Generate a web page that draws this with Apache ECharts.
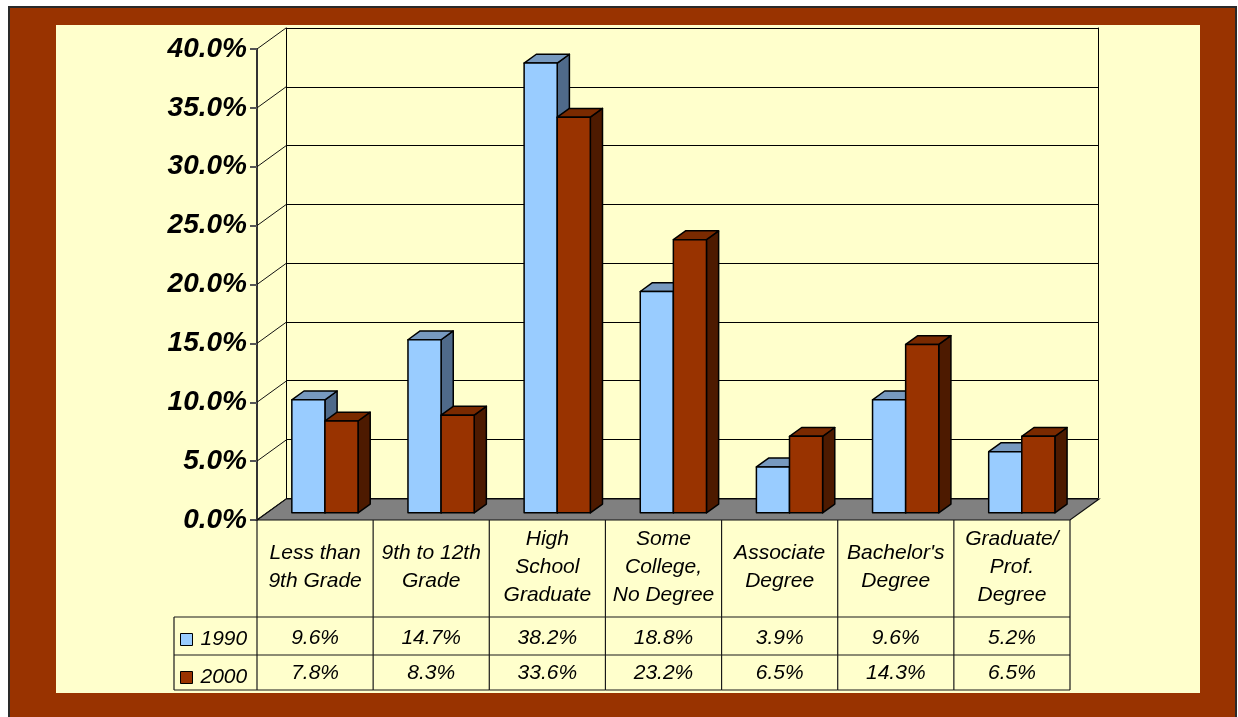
<!DOCTYPE html>
<html><head><meta charset="utf-8">
<script src="https://cdn.jsdelivr.net/npm/echarts@6/dist/echarts.min.js"></script>
<style>
html,body{margin:0;padding:0;background:#fff;width:1238px;height:717px;overflow:hidden;}
#frame{position:absolute;left:8px;top:6px;width:1229px;height:720px;background:#993300;border:2px solid #2a2a2a;box-sizing:border-box;}
#panel{position:absolute;left:56px;top:25px;width:1144px;height:668px;background:#FFFFCC;}
#chart{position:absolute;left:0;top:0;width:1238px;height:717px;}
</style></head><body>
<div id="frame"></div><div id="panel"></div><div id="chart"></div>
<script>
// ---- data ----
const categories = ['Less than\n9th Grade', '9th to 12th\nGrade', 'High\nSchool\nGraduate', 'Some\nCollege,\nNo Degree', 'Associate\nDegree', "Bachelor's\nDegree", 'Graduate/\nProf.\nDegree'];
const seriesNames = ['1990', '2000'];
const values1990 = [9.6, 14.7, 38.2, 18.8, 3.9, 9.6, 5.2];
const values2000 = [7.8, 8.3, 33.6, 23.2, 6.5, 14.3, 6.5];
const yTicks = [0, 5, 10, 15, 20, 25, 30, 35, 40];

// ---- style ----
const FONT = '"Liberation Sans", Arial, sans-serif';
const DX = 29, DY = -21;        // depth of the 3D box
const F0 = 0.34, F1 = 0.76;     // depth range of bars
const colors = [
  {front: '#99CCFF', top: '#7799BF', side: '#4F6A8A'},
  {front: '#993300', top: '#7A2A00', side: '#4D1A00'}
];
const fmt = v => v.toFixed(1) + '%';

const chart = echarts.init(document.getElementById('chart'), null, {renderer: 'canvas'});

function barRender(k) {
  return function (params, api) {
    const i = api.value(0), v = api.value(1);
    const base = api.coord([i, 0]);
    const top = api.coord([i, v]);
    const w = api.size([1, 0])[0];
    const bw = w * 0.285;
    const x0 = base[0] - bw + k * bw + DX * F0;
    const x1 = x0 + bw;
    const yb = base[1] + DY * F0;
    const yt = top[1] + DY * F0;
    const ddx = DX * (F1 - F0), ddy = DY * (F1 - F0);
    const st = {stroke: '#000', lineWidth: 1.5, lineJoin: 'round'};
    const c = colors[k];
    return {
      type: 'group',
      children: [
        {type: 'polygon', shape: {points: [[x1, yt], [x1 + ddx, yt + ddy], [x1 + ddx, yb + ddy], [x1, yb]]}, style: Object.assign({fill: c.side}, st)},
        {type: 'polygon', shape: {points: [[x0, yt], [x1, yt], [x1 + ddx, yt + ddy], [x0 + ddx, yt + ddy]]}, style: Object.assign({fill: c.top}, st)},
        {type: 'rect', shape: {x: x0, y: yt, width: bw, height: yb - yt}, style: Object.assign({fill: c.front}, st)}
      ]
    };
  };
}

function frameRender(params, api) {
  const cs = params.coordSys;
  const v = api.value(1);
  const p = api.coord([0, v]);
  const x0 = cs.x, x1 = cs.x + cs.width, yb = cs.y + cs.height;
  const children = [];
  if (params.dataIndex === 0) {
    children.push({type: 'polygon', shape: {points: [[x0, yb], [x1, yb], [x1 + DX, yb + DY], [x0 + DX, yb + DY]]},
      style: {fill: '#808080', stroke: '#111', lineWidth: 1.2}});
  }
  children.push({type: 'line', shape: {x1: x0, y1: p[1], x2: x0 + DX, y2: p[1] + DY}, style: {stroke: '#111', lineWidth: 1}});
  return {type: 'group', children};
}

function tableRender(params, api) {
  const cs = params.coordSys;
  const i = api.value(0);
  const c = api.coord([i, 0]);
  const w = api.size([1, 0])[0];
  const xl = c[0] - w / 2, xr = c[0] + w / 2;
  const y0 = cs.y + cs.height, y1 = y0 + 97, y2 = y1 + 38, y3 = y2 + 35;
  const ls = {stroke: '#1a1a1a', lineWidth: 1.2};
  const ts = {align: 'center', verticalAlign: 'middle', fontSize: 21, fontStyle: 'italic', fontFamily: FONT, fill: '#000', lineHeight: 28};
  const ch = [
    {type: 'line', shape: {x1: xl, y1: y0, x2: xl, y2: y3}, style: ls},
    {type: 'line', shape: {x1: xl, y1: y1, x2: xr, y2: y1}, style: ls},
    {type: 'line', shape: {x1: xl, y1: y2, x2: xr, y2: y2}, style: ls},
    {type: 'line', shape: {x1: xl, y1: y3, x2: xr, y2: y3}, style: ls},
    {type: 'text', style: Object.assign({text: categories[i], x: c[0], y: (y0 + y1) / 2 - 1}, ts)},
    {type: 'text', style: Object.assign({text: fmt(values1990[i]), x: c[0], y: (y1 + y2) / 2 + 2}, ts)},
    {type: 'text', style: Object.assign({text: fmt(values2000[i]), x: c[0], y: (y2 + y3) / 2 + 1}, ts)}
  ];
  if (i === categories.length - 1) {
    ch.push({type: 'line', shape: {x1: xr, y1: y0, x2: xr, y2: y3}, style: ls});
  }
  if (i === 0) {
    const lx = xl - 83;
    ch.push({type: 'line', shape: {x1: lx, y1: y1, x2: xl, y2: y1}, style: ls});
    ch.push({type: 'line', shape: {x1: lx, y1: y2, x2: xl, y2: y2}, style: ls});
    ch.push({type: 'line', shape: {x1: lx, y1: y3, x2: xl, y2: y3}, style: ls});
    ch.push({type: 'line', shape: {x1: lx, y1: y1, x2: lx, y2: y3}, style: ls});
  }
  return {type: 'group', children: ch};
}

const option = {
  animation: false,
  backgroundColor: 'transparent',
  grid: [
    {left: 257, top: 49, width: 813, height: 471},
    {left: 286, top: 28, width: 812, height: 470}
  ],
  legend: {
    data: seriesNames, orient: 'vertical', left: 180, top: 629, padding: 0, itemGap: 17,
    icon: 'rect', itemWidth: 12, itemHeight: 12,
    itemStyle: {borderColor: '#000', borderWidth: 1},
    textStyle: {fontSize: 21, fontStyle: 'italic', fontFamily: FONT, color: '#000', lineHeight: 20, padding: [0, 0, 0, 3]},
    selectedMode: false
  },
  xAxis: [
    {type: 'category', data: categories, gridIndex: 0, show: false},
    {type: 'category', data: categories, gridIndex: 1, show: false}
  ],
  yAxis: [
    {gridIndex: 0, min: 0, max: 40, interval: 5,
      axisLine: {show: true, lineStyle: {color: '#333', width: 2}},
      axisTick: {show: true, length: 7, lineStyle: {color: '#555', width: 2}},
      axisLabel: {formatter: v => fmt(v), fontSize: 28, fontWeight: 'bold', fontStyle: 'italic', fontFamily: FONT, color: '#000', margin: 10},
      splitLine: {show: false}},
    {gridIndex: 1, min: 0, max: 40, interval: 5,
      axisLine: {show: true, lineStyle: {color: '#000', width: 1}},
      axisTick: {show: false}, axisLabel: {show: false},
      splitLine: {show: true, lineStyle: {color: '#000', width: 1}}},
    {gridIndex: 1, min: 0, max: 40, interval: 5, position: 'right',
      axisLine: {show: true, lineStyle: {color: '#000', width: 1}},
      axisTick: {show: false}, axisLabel: {show: false}, splitLine: {show: false}}
  ],
  series: [
    {type: 'custom', name: 'frame', xAxisIndex: 0, yAxisIndex: 0, silent: true, z: 1,
      data: yTicks.map(v => [0, v]), renderItem: frameRender},
    {type: 'custom', name: seriesNames[0], xAxisIndex: 0, yAxisIndex: 0, z: 3,
      itemStyle: {color: colors[0].front},
      data: values1990.map((v, i) => [i, v]), renderItem: barRender(0)},
    {type: 'custom', name: seriesNames[1], xAxisIndex: 0, yAxisIndex: 0, z: 4,
      itemStyle: {color: colors[1].front},
      data: values2000.map((v, i) => [i, v]), renderItem: barRender(1)},
    {type: 'custom', name: 'table', xAxisIndex: 0, yAxisIndex: 0, silent: true, z: 2,
      data: categories.map((c, i) => [i, 0]), renderItem: tableRender}
  ]
};
chart.setOption(option);
</script>
</body></html>
